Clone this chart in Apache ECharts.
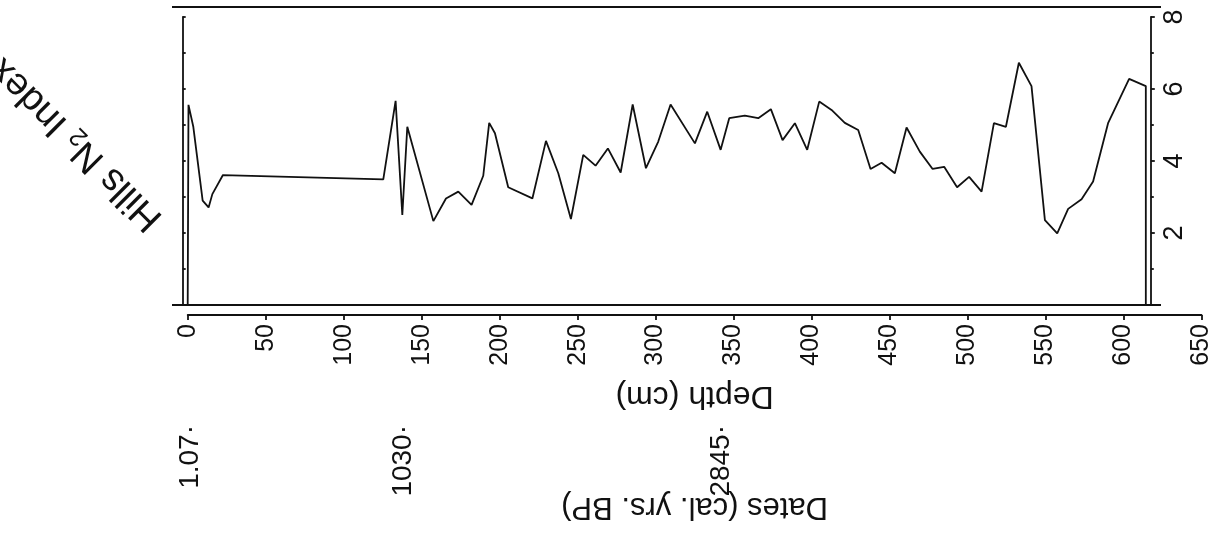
<!DOCTYPE html>
<html>
<head>
<meta charset="utf-8">
<script src="https://cdn.jsdelivr.net/npm/echarts@6/dist/echarts.min.js"></script>
<style>
  html, body { margin: 0; padding: 0; background: #fff; }
  #chart { width: 1214px; height: 538px; }
</style>
</head>
<body>
<div id="chart"></div>
<script>
// depth (cm) and Hills N2 index
const depth = [0, 0.5, 3.6, 9.6, 13.4, 15.8, 22.6, 125.4, 133.3, 137.6, 140.8,
  157.5, 165.6, 173.5, 182, 189.5, 193.3, 197, 205.5, 221, 229.7, 237.6, 245.7,
  253.6, 261.5, 269.4, 277.6, 285.3, 293.8, 301.7, 309.6, 325.2, 333.1, 341.7,
  347.2, 357.2, 365.8, 373.9, 381.4, 389.3, 397.2, 404.9, 412.8, 421.3, 429.9,
  437.8, 444.9, 453.4, 460.9, 469.4, 477.6, 485, 493.3, 501, 509, 516.9, 524.6,
  532.9, 541, 549.6, 557.5, 564.5, 573.1, 580.5, 590.1, 603.6, 614.3, 614.3]
const hills = [0, 5.56, 4.95, 2.9, 2.71, 3.08, 3.61, 3.49, 5.67, 2.5, 4.95,
  2.33, 2.96, 3.15, 2.78, 3.59, 5.06, 4.77, 3.27, 2.96, 4.56, 3.66, 2.39,
  4.17, 3.87, 4.35, 3.68, 5.57, 3.8, 4.54, 5.57, 4.49, 5.37, 4.31,
  5.19, 5.26, 5.19, 5.44, 4.58, 5.05, 4.31, 5.65, 5.42, 5.06, 4.86,
  3.78, 3.95, 3.66, 4.93, 4.26, 3.78, 3.84, 3.27, 3.56, 3.15, 5.05, 4.95,
  6.73, 6.08, 2.36, 1.99, 2.67, 2.94, 3.43, 5.05, 6.28, 6.08, 0]

// radiocarbon dates and the depths they sit at
const dateDepths = [1.5, 138, 342.3]
const dateLabels = ['1.07·', '1030·', '2845·']

const ink = '#111'
const font = "'Liberation Sans', Arial, Helvetica, sans-serif"

const chart = echarts.init(document.getElementById('chart'))

chart.setOption({
  animation: false,
  textStyle: { fontFamily: font, color: ink },
  grid: { left: 187.7, width: 1014, top: 17, height: 288 },
  xAxis: [
    {
      type: 'value', min: 0, max: 650, interval: 50,
      position: 'bottom', offset: 10,
      axisLine: { onZero: false, lineStyle: { color: ink, width: 1.8 } },
      axisTick: { length: 5, lineStyle: { color: ink, width: 1.8 } },
      axisLabel: { rotate: 90, fontSize: 25, color: ink, margin: 9, fontFamily: font },
      splitLine: { show: false },
      name: 'Depth (cm)', nameLocation: 'middle', nameRotate: 180, nameGap: 65,
      nameMoveOverlap: false,
      nameTextStyle: { fontSize: 32, color: ink, fontFamily: font }
    },
    {
      type: 'value', min: 0, max: 650,
      position: 'bottom', offset: 112,
      axisLine: { show: false, onZero: false },
      axisTick: { show: false },
      axisLabel: {
        rotate: 90, fontSize: 28, color: ink, margin: 8, fontFamily: font,
        customValues: dateDepths,
        formatter: v => dateLabels[dateDepths.indexOf(v)] || ''
      },
      splitLine: { show: false },
      name: 'Dates (cal. yrs. BP)', nameLocation: 'middle', nameRotate: 180, nameGap: 74,
      nameMoveOverlap: false,
      nameTextStyle: { fontSize: 31, color: ink, fontFamily: font }
    }
  ],
  yAxis: [
    {
      type: 'value', min: 0, max: 8, interval: 1,
      position: 'left', offset: 5,
      axisLine: { show: true, onZero: false, lineStyle: { color: ink, width: 1.8 } },
      axisTick: { show: true, inside: true, length: 3, lineStyle: { color: ink, width: 1.8 } },
      axisLabel: { show: false },
      splitLine: { show: false }
    },
    {
      type: 'value', min: 0, max: 8, interval: 2,
      position: 'right', offset: -50.7,
      axisLine: { show: true, onZero: false, lineStyle: { color: ink, width: 1.8 } },
      axisTick: { show: true, length: 4, lineStyle: { color: ink, width: 1.8 } },
      minorTick: { show: true, splitNumber: 2, length: 3, lineStyle: { color: ink, width: 1.8 } },
      axisLabel: {
        rotate: 90, fontSize: 27, color: ink, margin: 10, fontFamily: font,
        formatter: v => (v === 0 ? '' : String(v))
      },
      splitLine: { show: false }
    }
  ],
  graphic: [
    // panel frame lines above and below the trace
    { type: 'line', shape: { x1: 172, y1: 7, x2: 1161, y2: 7 }, style: { stroke: ink, lineWidth: 1.8 } },
    { type: 'line', shape: { x1: 172, y1: 305, x2: 1161, y2: 305 }, style: { stroke: ink, lineWidth: 1.8 } },
    {
      type: 'text', x: 76, y: 144, rotation: Math.PI * 0.75,
      style: {
        text: '{a|Hills N}{s|2}{a| Index}',
        align: 'center', verticalAlign: 'middle',
        fill: ink,
        rich: {
          a: { fontSize: 38, fontFamily: font, fill: ink, lineHeight: 40 },
          s: { fontSize: 25, fontFamily: font, fill: ink, lineHeight: 12, verticalAlign: 'bottom' }
        }
      }
    }
  ],
  series: [
    {
      type: 'line',
      xAxisIndex: 0, yAxisIndex: 0,
      data: depth.map((d, i) => [d, hills[i]]),
      symbol: 'none',
      lineStyle: { color: ink, width: 1.8 },
      clip: false
    }
  ]
})
</script>
</body>
</html>
